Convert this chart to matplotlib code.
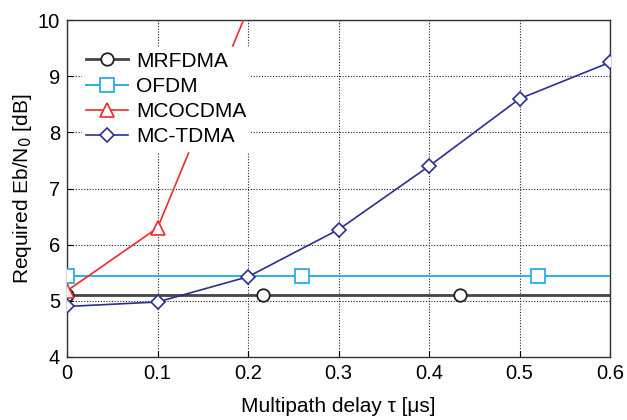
import matplotlib.pyplot as plt
import numpy as np

plt.rcParams['font.family'] = ['Liberation Sans', 'DejaVu Sans']

# 数据
delay = [0, 0.1, 0.2, 0.3, 0.4, 0.5, 0.6]
mctdma = [4.9, 4.98, 5.43, 6.27, 7.4, 8.6, 9.25]
mcocdma_x = [0, 0.1, 0.2]
mcocdma = [5.18, 6.3, 10.2]
mrfdma_x = [0, 0.217, 0.434, 0.6]
mrfdma = [5.1, 5.1, 5.1, 5.1]
ofdm_x = [0, 0.26, 0.52, 0.6]
ofdm = [5.45, 5.45, 5.45, 5.45]
xticks = [0, 0.1, 0.2, 0.3, 0.4, 0.5, 0.6]
yticks = [4, 5, 6, 7, 8, 9, 10]

fig = plt.figure(figsize=(6.27, 4.2), dpi=100)
ax = fig.add_axes([0.107, 0.15, 0.866, 0.802])

ax.plot(mrfdma_x, mrfdma, '-o', color='#444444', lw=2.0, ms=9, mfc='white',
        mec='#222222', mew=1.3, markevery=[0, 1, 2], label='MRFDMA', zorder=3)
ax.plot(ofdm_x, ofdm, '-s', color='#2aaee6', lw=1.4, ms=10, mfc='white',
        mec='#2aaee6', mew=1.3, markevery=[0, 1, 2], label='OFDM', zorder=3)
ax.plot(mcocdma_x, mcocdma, '-^', color='#ee2a30', lw=1.2, ms=10, mfc='white',
        mec='#ee2a30', mew=1.2, label='MCOCDMA', zorder=4)
ax.plot(delay, mctdma, '-D', color='#2b2f8f', lw=1.2, ms=7.5, mfc='white',
        mec='#2b2f8f', mew=1.2, label='MC-TDMA', zorder=5)

ax.set_xlim(0, 0.6)
ax.set_ylim(4, 10)
ax.set_xticks(xticks)
ax.set_xticklabels(['0', '0.1', '0.2', '0.3', '0.4', '0.5', '0.6'])
ax.set_yticks(yticks)
ax.tick_params(direction='in', length=4, labelsize=14.5, pad=5)
ax.grid(True, linestyle=(0, (1, 1.5)), color='#222222', lw=0.8)
for s in ax.spines.values():
    s.set_color('#333333')
    s.set_linewidth(1.0)

ax.set_xlabel('Multipath delay \u03c4 [\u03bcs]', fontsize=15, labelpad=10)
ax.set_ylabel('Required Eb/N$_0$ [dB]', fontsize=15, labelpad=3)

leg = ax.legend(loc='upper left', bbox_to_anchor=(0.008, 0.95), fontsize=15,
                frameon=True, fancybox=False, edgecolor='white', framealpha=1,
                handlelength=2.0, handletextpad=0.4, labelspacing=0.3,
                borderpad=0.2)

fig.savefig('out.png', dpi=100)
